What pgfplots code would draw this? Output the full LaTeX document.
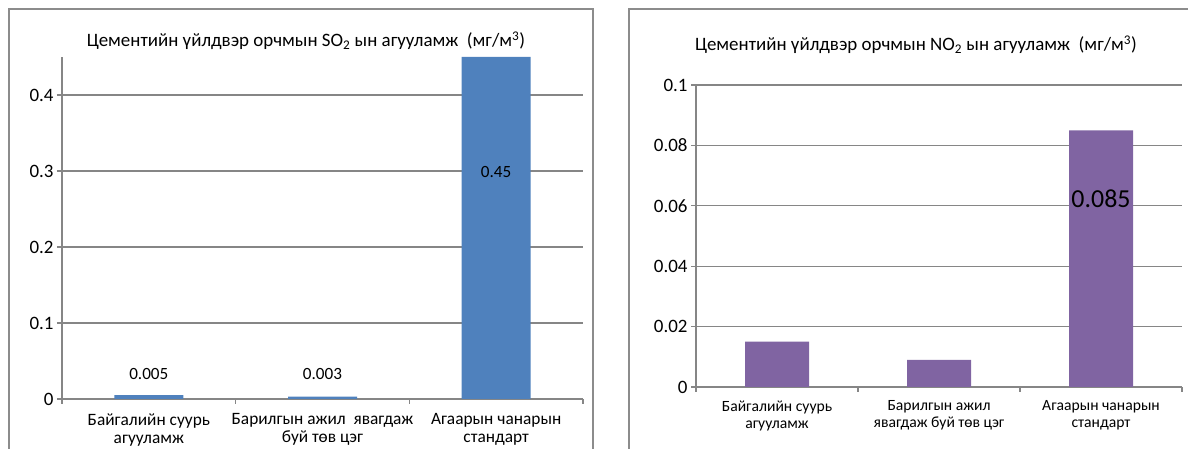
\documentclass[border=0pt]{standalone}
\usepackage{fontspec}
\setmainfont{Carlito}
\usepackage{pgfplots}
\usepackage{pgfplotstable}
\pgfplotsset{compat=1.18}

\definecolor{barblue}{HTML}{4F81BD}
\definecolor{barpurple}{HTML}{8064A2}
\definecolor{gridgray}{HTML}{868686}
\definecolor{framegray}{HTML}{8C8C8C}

% SO2 concentrations (mg/m3), dy = label shift from bar top
\pgfplotstableread{
x y lab dy
0 0.005 0.005 21
1 0.003 0.003 23
2 0.45 0.45 -115
}\sotable

% NO2 concentrations (mg/m3)
\pgfplotstableread{
x y lab dy
0 0.015 {} 0
1 0.009 {} 0
2 0.085 0.085 -68
}\notable

\pgfplotsset{
  excelbar/.style={
    scale only axis, anchor=south west,
    xmin=-0.5, xmax=2.5, ymin=0,
    axis x line=bottom, axis y line=left,
    axis line style={-, draw=gridgray, line width=1.3bp},
    ymajorgrids, grid style={draw=gridgray, line width=1.3bp},
    tick align=outside, major tick length=5bp,
    tick style={draw=gridgray, line width=1.3bp},
    xtick={-0.5,0.5,1.5,2.5}, xticklabels={},
    extra x tick style={major tick length=0pt, grid=none},
    xticklabel style={align=center, text=black},
    yticklabel style={font=\fontsize{19}{22}\selectfont, text=black,
      /pgf/number format/fixed, /pgf/number format/precision=2},
    /pgf/number format/assume math mode=true,
    ybar, clip=false,
    nodes near coords, point meta=explicit symbolic,
    visualization depends on={\thisrow{dy}\as\dy},
  },
}

\begin{document}
\begin{tikzpicture}[x=1bp, y=1bp]
\useasboundingbox (0,0) rectangle (1188,449);
\draw[framegray, line width=1.5bp] (9,-10) rectangle (593,440);
\draw[framegray, line width=1.5bp] (629,-10) -- (629,440) -- (1200,440);

\node[font=\fontsize{19}{22}\selectfont] at (306,408)
  {Цементийн үйлдвэр орчмын SO\textsubscript{2} ын агууламж\ \ (мг/м\textsuperscript{3})};
\node[font=\fontsize{19}{22}\selectfont] at (916,404)
  {Цементийн үйлдвэр орчмын NO\textsubscript{2} ын агууламж\ \ (мг/м\textsuperscript{3})};

\begin{axis}[excelbar,
  at={(62bp,50bp)}, width=521bp, height=342bp,
  ymax=0.45, ytick={0,0.1,0.2,0.3,0.4},
  bar width=69bp,
  extra x ticks={0,1,2},
  extra x tick labels={{Байгалийн суурь\\агууламж},{Барилгын ажил\ \ явагдаж\\буй төв цэг},{Агаарын чанарын\\стандарт}},
  extra x tick style={xticklabel style={font=\fontsize{17.4}{18}\selectfont, yshift=-11bp}},
  every node near coord/.append style={anchor=center, yshift=\dy bp,
    font=\fontsize{17.2}{20}\selectfont, text=black},
]
\addplot[fill=barblue, draw=none] table[x=x, y=y, meta=lab] {\sotable};
\end{axis}

\begin{axis}[excelbar,
  at={(696bp,62bp)}, width=486bp, height=302bp,
  ymax=0.1, ytick={0,0.02,0.04,0.06,0.08,0.1},
  bar width=64bp,
  extra x ticks={0,1,2},
  extra x tick labels={{Байгалийн суурь\\агууламж},{Барилгын ажил\\явагдаж буй төв цэг},{Агаарын чанарын\\стандарт}},
  extra x tick style={xticklabel style={font=\fontsize{15.7}{17}\selectfont, yshift=-10bp}},
  every node near coord/.append style={anchor=center, yshift=\dy bp,
    font=\fontsize{26}{30}\selectfont, text=black},
]
\addplot[fill=barpurple, draw=none] table[x=x, y=y, meta=lab] {\notable};
\end{axis}
\end{tikzpicture}
\end{document}
